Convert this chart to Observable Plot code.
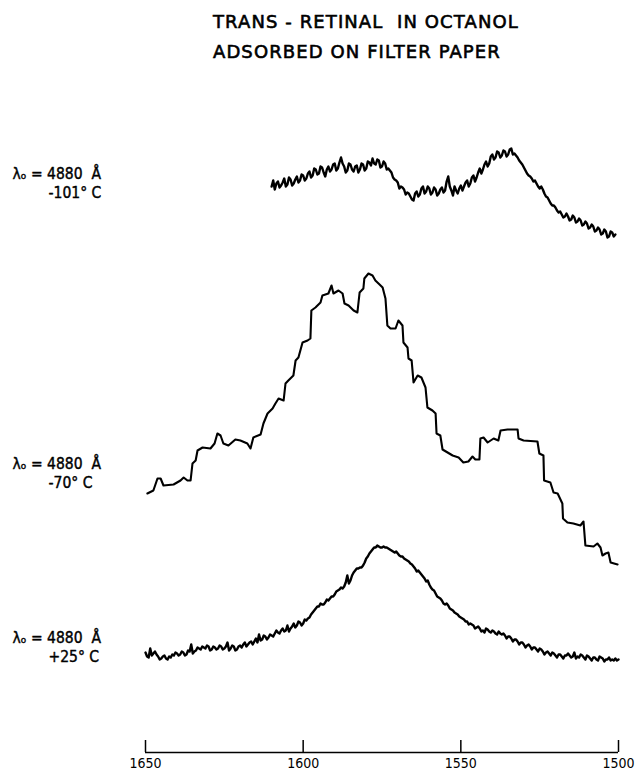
<!DOCTYPE html>
<html>
<head>
<meta charset="utf-8">
<script src="https://cdn.jsdelivr.net/npm/d3@7"></script>
<script src="https://cdn.jsdelivr.net/npm/@observablehq/plot@0.6"></script>
<style>
  body { margin: 0; background: #fff; font-family: "DejaVu Sans", sans-serif; color: #000; }
  #wrap { position: relative; width: 640px; height: 770px; overflow: hidden; }
  #title { position: absolute; left: 213px; top: 0; padding-top: 7px; font-size: 18px; line-height: 30px; white-space: pre; letter-spacing: 1.1px; -webkit-text-stroke: 0.6px #000; }
  #chart { position: absolute; left: 0; top: 70px; }
</style>
</head>
<body>
<div id="wrap">
  <div id="title"><div>TRANS - RETINAL  IN OCTANOL</div><div>ADSORBED ON FILTER PAPER</div></div>
  <div id="chart"></div>
</div>
<script>
// Raman shift (cm-1) tick labels
const xTicks = [1650, 1600, 1550, 1500];

// Trace at -101 C: [wavenumber, intensity (arb. units, offset trace)]
const traceCold = [
  [1610,566],[1609.5,572],[1609,563],[1608.5,569],[1608,571],[1607.5,565],[1607,567],[1606.5,570],[1606,574],[1605.5,566],
  [1605,568],[1604.5,575],[1604,573],[1603.5,567],[1603,569],[1602.5,573],[1602,576],[1601.5,570],[1601,572],[1600.5,578],
  [1600,577],[1599.5,572],[1599,574],[1598.5,579],[1598,581],[1597.5,575],[1597,577],[1596.5,584],[1596,583],[1595.5,578],
  [1595,579],[1594.5,586],[1594,585],[1593.5,580],[1593,576],[1592.5,583],[1592,586],[1591.5,581],[1591,583],[1590.5,588],
  [1590,589],[1589.5,582],[1589,584],[1588.5,590],[1588,595],[1587.5,589],[1587,586],[1586.5,580],[1586,582],[1585.5,589],
  [1585,588],[1584.5,583],[1584,581],[1583.5,586],[1583,587],[1582.5,580],[1582,583],[1581.5,589],[1581,588],[1580.5,582],
  [1580,584],[1579.5,591],[1579,590],[1578.5,587],[1578,594],[1577.5,589],[1577,588],[1576.5,593],[1576,592],[1575.5,585],
  [1575,586],[1574.5,591],[1574,589],[1573.5,583],[1573,584],[1572.5,582],[1572,580],[1571.5,575],[1571,573],[1570.5,572],
  [1570,570],[1569.5,564],[1569,566],[1568.5,565],[1568,563],[1567.5,558],[1567,560],[1566.5,559],[1566,556],[1565.5,553],
  [1565,552],[1564.5,559],[1564,561],[1563.5,556],[1563,558],[1562.5,564],[1562,566],[1561.5,559],[1561,561],[1560.5,566],
  [1560,564],[1559.5,558],[1559,560],[1558.5,565],[1558,563],[1557.5,557],[1557,559],[1556.5,563],[1556,565],[1555.5,560],
  [1555,562],[1554.5,571],[1554,576],[1553.5,566],[1553,562],[1552.5,557],[1552,566],[1551.5,562],[1551,559],[1550.5,564],
  [1550,567],[1549.5,562],[1549,566],[1548.5,570],[1548,572],[1547.5,566],[1547,569],[1546.5,575],[1546,577],[1545.5,571],
  [1545,575],[1544.5,580],[1544,584],[1543.5,579],[1543,583],[1542.5,588],[1542,591],[1541.5,586],[1541,589],[1540.5,596],
  [1540,598],[1539.5,593],[1539,595],[1538.5,601],[1538,600],[1537.5,595],[1537,597],[1536.5,602],[1536,601],[1535.5,596],
  [1535,598],[1534.5,603],[1534,604],[1533.5,598],[1533,599],[1532.5,597],[1532,595],[1531.5,592],[1531,590],[1530.5,588],
  [1530,585],[1529.5,582],[1529,579],[1528.5,577],[1528,576],[1527.5,574],[1527,571],[1526.5,572],[1526,569],[1525.5,566],
  [1525,564],[1524.5,566],[1524,563],[1523.5,559],[1523,556],[1522.5,555],[1522,552],[1521.5,549],[1521,547],[1520.5,547],
  [1520,545],[1519.5,542],[1519,540],[1518.5,541],[1518,538],[1517.5,535],[1517,536],[1516.5,539],[1516,536],[1515.5,532],
  [1515,533],[1514.5,537],[1514,535],[1513.5,530],[1513,531],[1512.5,534],[1512,532],[1511.5,527],[1511,528],[1510.5,531],
  [1510,529],[1509.5,524],[1509,525],[1508.5,528],[1508,526],[1507.5,521],[1507,522],[1506.5,525],[1506,523],[1505.5,518],
  [1505,519],[1504.5,523],[1504,521],[1503.5,515],[1503,516],[1502.5,521],[1502,520],[1501.5,516],[1501,518]
];

// Trace at -70 C
const traceMid = [
  [1649.4,259],[1647.5,262],[1646.2,274],[1645.2,274],[1644.3,267],[1641.1,268],[1638.9,272],[1637.9,275],
  [1636.7,272],[1635.7,272],[1635.1,289],[1634.1,292],[1633.5,302],[1631.9,305],[1629.4,304],[1628.1,309],
  [1627.2,319],[1626.2,317],[1625.3,309],[1623.7,307],[1621.5,313],[1619.9,312],[1617.7,309],[1616.7,304],
  [1615.8,315],[1613.5,318],[1612.6,329],[1611.3,339],[1609.7,344],[1608.8,349],[1607.8,354],[1606.2,352],
  [1605.6,369],[1604.7,372],[1603.1,377],[1602.4,392],[1601.5,395],[1600.2,410],[1598.6,412],[1597.7,414],
  [1597.4,442],[1596.1,445],[1594.5,450],[1593.9,457],[1592.0,459],[1591.0,467],[1590.4,459],[1588.8,462],
  [1587.5,459],[1586.9,449],[1585.6,447],[1584.0,442],[1582.8,440],[1582.1,460],[1580.9,464],[1580.6,474],
  [1579.3,479],[1578.0,477],[1577.1,472],[1576.1,469],[1574.8,465],[1573.9,454],[1573.3,427],[1572.3,424],
  [1570.7,424],[1569.8,432],[1568.5,427],[1568.2,410],[1566.9,405],[1566.6,394],[1565.6,392],[1565.0,370],
  [1563.7,377],[1562.5,375],[1561.2,365],[1560.6,345],[1559.0,342],[1558.0,339],[1557.7,319],[1556.5,317],
  [1555.8,303],[1554.2,300],[1552.6,297],[1550.7,295],[1549.2,290],[1547.6,291],[1546.3,296],[1545.4,293],
  [1544.1,293],[1543.8,314],[1542.8,315],[1541.5,310],[1539.6,314],[1538.1,312],[1537.4,322],[1535.2,323],
  [1532.0,323],[1531.7,314],[1530.1,312],[1525.7,311],[1525.1,299],[1523.8,297],[1523.6,272],[1521.6,270],
  [1520.6,260],[1519.3,259],[1517.8,249],[1517.6,234],[1516.2,230],[1514.3,229],[1512.1,227],[1511.1,231],
  [1510.5,207],[1507.9,206],[1506.7,209],[1505.7,205],[1505.1,197],[1504.1,199],[1503.2,200],[1502.5,190],
  [1500.3,188]
];

// Trace at +25 C
const traceWarm = [
  [1650,100],[1649.5,96],[1649,95],[1648.5,104],[1648,97],[1647.5,99],[1647,101],[1646.5,98],[1646,96],[1645.5,93],
  [1645,94],[1644.5,96],[1644,97],[1643.5,94],[1643,93],[1642.5,96],[1642,95],[1641.5,98],[1641,97],[1640.5,100],
  [1640,99],[1639.5,97],[1639,98],[1638.5,101],[1638,100],[1637.5,97],[1637,98],[1636.5,102],[1636,101],[1635.5,108],
  [1635,99],[1634.5,101],[1634,102],[1633.5,105],[1633,104],[1632.5,103],[1632,106],[1631.5,105],[1631,104],[1630.5,107],
  [1630,106],[1629.5,102],[1629,103],[1628.5,106],[1628,105],[1627.5,103],[1627,104],[1626.5,107],[1626,106],[1625.5,103],
  [1625,104],[1624.5,106],[1624,110],[1623.5,102],[1623,104],[1622.5,107],[1622,106],[1621.5,102],[1621,103],[1620.5,106],
  [1620,107],[1619.5,105],[1619,108],[1618.5,110],[1618,106],[1617.5,108],[1617,110],[1616.5,111],[1616,108],[1615.5,111],
  [1615,114],[1614.5,110],[1614,118],[1613.5,112],[1613,113],[1612.5,117],[1612,116],[1611.5,113],[1611,115],[1610.5,118],
  [1610,117],[1609.5,116],[1609,119],[1608.5,122],[1608,120],[1607.5,119],[1607,122],[1606.5,124],[1606,121],[1605.5,122],
  [1605,127],[1604.5,121],[1604,124],[1603.5,126],[1603,129],[1602.5,125],[1602,127],[1601.5,131],[1601,130],[1600.5,127],
  [1600,129],[1599.5,133],[1599,132],[1598.5,134],[1598,135],[1597.5,138],[1597,140],[1596.5,142],[1596,144],[1595.5,146],
  [1595,146],[1594.5,149],[1594,148],[1593.5,148],[1593,150],[1592.5,153],[1592,152],[1591.5,154],[1591,156],[1590.5,156],
  [1590,158],[1589.5,161],[1589,162],[1588.5,163],[1588,165],[1587.5,164],[1587,166],[1586.5,170],[1586,177],[1585.5,169],
  [1585,172],[1584.5,177],[1584,180],[1583.5,182],[1583,184],[1582.5,184],[1582,185],[1581.5,185],[1581,187],[1580.5,190],
  [1580,194],[1579.5,196],[1579,199],[1578.5,201],[1578,203],[1577.5,205],[1577,205],[1576.5,207],[1576,206],[1575.5,205],
  [1575,205],[1574.5,206],[1574,205],[1573.5,205],[1573,204],[1572.5,203],[1572,202],[1571.5,201],[1571,200],[1570.5,201],
  [1570,199],[1569.5,197],[1569,196],[1568.5,196],[1568,194],[1567.5,193],[1567,192],[1566.5,191],[1566,189],[1565.5,188],
  [1565,186],[1564.5,184],[1564,181],[1563.5,182],[1563,180],[1562.5,178],[1562,176],[1561.5,174],[1561,171],[1560.5,172],
  [1560,168],[1559.5,165],[1559,163],[1558.5,162],[1558,159],[1557.5,156],[1557,155],[1556.5,154],[1556,152],[1555.5,149],
  [1555,148],[1554.5,149],[1554,147],[1553.5,144],[1553,143],[1552.5,142],[1552,140],[1551.5,139],[1551,138],[1550.5,136],
  [1550,135],[1549.5,134],[1549,133],[1548.5,131],[1548,131],[1547.5,128],[1547,129],[1546.5,128],[1546,127],[1545.5,124],
  [1545,125],[1544.5,126],[1544,124],[1543.5,121],[1543,122],[1542.5,120],[1542,124],[1541.5,123],[1541,121],[1540.5,120],
  [1540,122],[1539.5,121],[1539,119],[1538.5,118],[1538,121],[1537.5,119],[1537,118],[1536.5,119],[1536,117],[1535.5,114],
  [1535,116],[1534.5,116],[1534,114],[1533.5,111],[1533,113],[1532.5,113],[1532,111],[1531.5,108],[1531,110],[1530.5,110],
  [1530,108],[1529.5,105],[1529,107],[1528.5,108],[1528,106],[1527.5,103],[1527,105],[1526.5,105],[1526,103],[1525.5,101],
  [1525,104],[1524.5,103],[1524,101],[1523.5,98],[1523,100],[1522.5,101],[1522,99],[1521.5,97],[1521,100],[1520.5,99],
  [1520,97],[1519.5,95],[1519,98],[1518.5,98],[1518,96],[1517.5,94],[1517,97],[1516.5,97],[1516,99],[1515.5,97],
  [1515,95],[1514.5,96],[1514,100],[1513.5,94],[1513,96],[1512.5,95],[1512,98],[1511.5,97],[1511,95],[1510.5,93],
  [1510,97],[1509.5,96],[1509,94],[1508.5,92],[1508,95],[1507.5,95],[1507,93],[1506.5,92],[1506,96],[1505.5,95],
  [1505,94],[1504.5,91],[1504,93],[1503.5,93],[1503,95],[1502.5,92],[1502,93],[1501.5,92],[1501,94],[1500.5,92],
  [1500,93]
];

// Condition labels and the intensity level each belongs to
const labelLine1 = ["λₒ = 4880  Å", "λₒ = 4880  Å", "λₒ = 4880  Å"];
const labelLine2 = ["-101° C", "-70° C", "+25° C"];
const labelLevel = [574, 284, 110];

const labels = labelLine1.map((t, i) => ({t1: t, t2: labelLine2[i], level: labelLevel[i]}));

const labelFont = "'DejaVu Sans Condensed', 'DejaVu Sans', sans-serif";

const chart = Plot.plot({
  width: 640,
  height: 700,
  marginLeft: 145,
  marginRight: 22,
  marginTop: 0,
  marginBottom: 18,
  style: {fontFamily: labelFont, color: "#000", background: "#fff", overflow: "visible"},
  x: {type: "linear", domain: [1650, 1500], label: null},
  y: {domain: [0, 682], axis: null},
  marks: [
    Plot.ruleY([0], {stroke: "#000", strokeWidth: 1.5}),
    Plot.axisX(xTicks, {tickSize: -12, tickPadding: 18, strokeWidth: 1.5, fontSize: 14, label: null, tickFormat: d => String(d)}),
    Plot.line(traceCold, {x: d => d[0], y: d => d[1], stroke: "#000", strokeWidth: 2.4, strokeLinejoin: "round"}),
    Plot.line(traceMid, {x: d => d[0], y: d => d[1], stroke: "#000", strokeWidth: 2.1, strokeLinejoin: "round", curve: "linear"}),
    Plot.line(traceWarm, {x: d => d[0], y: d => d[1], stroke: "#000", strokeWidth: 2.4, strokeLinejoin: "round"}),
    Plot.text(labels, {y: "level", text: "t1", frameAnchor: "left", textAnchor: "start", dx: -133, lineAnchor: "bottom", fontSize: 15.5, fill: "#000", stroke: "#000", strokeWidth: 0.4, clip: false}),
    Plot.text(labels, {y: "level", text: "t2", frameAnchor: "left", textAnchor: "start", dx: -97, dy: 19, lineAnchor: "bottom", fontSize: 15.5, fill: "#000", stroke: "#000", strokeWidth: 0.4, clip: false})
  ]
});
document.getElementById("chart").appendChild(chart);
</script>
</body>
</html>
